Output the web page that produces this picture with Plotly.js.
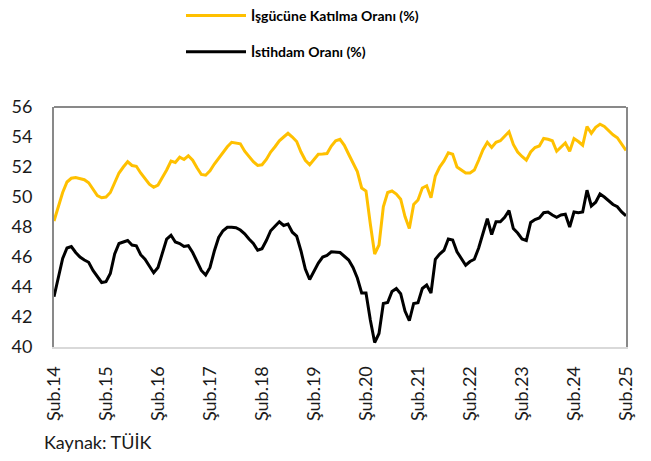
<!DOCTYPE html>
<html>
<head>
<meta charset="utf-8">
<script src="https://cdn.plot.ly/plotly-3.0.1.min.js"></script>
<style>html,body{margin:0;padding:0;background:#fff;}#chart{width:651px;height:461px;}</style>
</head>
<body>
<div id="chart"></div>
<script>
// Month names (Turkish abbreviations) and the years covered
const monthNames = ['Oca','Şub','Mar','Nis','May','Haz','Tem','Ağu','Eyl','Eki','Kas','Ara'];
const startYear = 2014;   // series starts Şubat 2014
const startMonth = 1;     // index into monthNames (Şub)
const nPoints = 133;      // Şub.14 .. Şub.25

// İşgücüne Katılma Oranı (%) — one row per 12 months starting Şub.14
const lfpr = [
  48.4,49.3,50.3,51.0,51.25,51.3,51.25,51.15,50.95,50.5,50.1,49.95,
  50.0,50.3,50.9,51.6,52.0,52.35,52.1,52.05,51.6,51.2,50.85,50.65,
  50.8,51.3,51.8,52.4,52.3,52.65,52.5,52.75,52.45,51.95,51.5,51.45,
  51.75,52.2,52.6,53.0,53.35,53.65,53.6,53.55,53.05,52.7,52.35,52.1,
  52.15,52.5,53.0,53.35,53.75,54.0,54.25,54.0,53.7,53.0,52.45,52.15,
  52.5,52.85,52.87,52.9,53.4,53.75,53.85,53.45,52.85,52.3,51.7,50.6,
  50.4,48.2,46.2,46.8,49.35,50.3,50.4,50.2,49.85,48.7,47.9,49.5,
  49.8,50.6,50.75,49.95,51.4,52.0,52.4,52.95,52.85,52.0,51.8,51.6,
  51.6,51.8,52.45,53.15,53.65,53.3,53.65,53.75,54.05,54.35,53.5,53.0,
  52.7,52.45,53.0,53.3,53.4,53.9,53.85,53.75,53.05,53.35,53.6,53.05,
  53.9,53.7,53.45,54.7,54.25,54.65,54.85,54.7,54.4,54.15,53.95,53.5,
  53.1
];

// İstihdam Oranı (%)
const emp = [
  43.35,44.6,45.9,46.6,46.7,46.3,46.0,45.8,45.65,45.1,44.7,44.3,
  44.35,44.9,46.2,46.9,47.0,47.1,46.8,46.75,46.15,45.85,45.4,44.95,
  45.3,46.3,47.2,47.45,47.0,46.9,46.7,46.75,46.3,45.7,45.1,44.8,
  45.3,46.4,47.3,47.75,47.98,47.98,47.95,47.8,47.55,47.2,46.9,46.45,
  46.55,47.1,47.75,48.05,48.35,48.1,48.2,47.65,47.4,46.4,45.2,44.5,
  45.1,45.6,46.0,46.1,46.35,46.35,46.3,46.05,45.8,45.3,44.6,43.6,
  43.6,41.8,40.3,40.9,42.9,42.97,43.7,43.9,43.55,42.4,41.75,42.9,
  42.95,43.9,44.13,43.6,45.85,46.2,46.45,47.2,47.13,46.35,45.9,45.45,
  45.7,45.85,46.6,47.6,48.55,47.5,48.35,48.35,48.65,49.1,47.9,47.6,
  47.2,47.1,48.3,48.5,48.6,48.95,49.0,48.8,48.65,48.8,48.85,48.0,
  49.0,48.95,49.0,50.45,49.4,49.65,50.2,50.0,49.75,49.5,49.35,49.0,
  48.75
];

// Category labels like "Şub.14"
const months = [];
for (let i = 0; i < nPoints; i++) {
  const m = (startMonth + i) % 12;
  const y = (startYear + Math.floor((startMonth + i) / 12)) % 100;
  months.push(monthNames[m] + '.' + String(y).padStart(2, '0'));
}
const tickLabels = months.filter(s => s.startsWith('Şub'));

const seriesNames = ['İşgücüne Katılma Oranı (%)', 'İstihdam Oranı (%)'];
const seriesColors = ['#FFC000', '#000000'];

const traces = [
  {x: months, y: lfpr, name: seriesNames[0], type: 'scatter', mode: 'lines',
   line: {color: seriesColors[0], width: 3}, legendgroup: 'a'},
  {x: months, y: emp, name: seriesNames[1], type: 'scatter', mode: 'lines',
   line: {color: seriesColors[1], width: 3}, legendgroup: 'b'}
];

const layout = {
  width: 651, height: 461,
  margin: {l: 54, r: 25, t: 107, b: 114, autoexpand: false},
  paper_bgcolor: '#ffffff', plot_bgcolor: '#ffffff',
  font: {family: 'Lato, "Open Sans", sans-serif', color: '#1a1a1a'},
  showlegend: true,
  legend: {
    xref: 'container', yref: 'container',
    x: 181/651, y: 1, xanchor: 'left', yanchor: 'top',
    orientation: 'v', traceorder: 'grouped', tracegroupgap: 15,
    itemwidth: 60,
    font: {family: 'Lato, sans-serif', size: 14, color: '#000', weight: 700},
    bgcolor: 'rgba(0,0,0,0)'
  },
  xaxis: {
    type: 'category', range: [0, nPoints - 1],
    tickmode: 'array', tickvals: tickLabels, ticktext: tickLabels,
    tickangle: -90, tickfont: {size: 18, color: '#1a1a1a'},
    showgrid: false, zeroline: false,
    showline: true, linecolor: '#d9d9d9', linewidth: 2,
    ticks: 'outside', ticklen: 10, tickcolor: 'rgba(0,0,0,0)'
  },
  yaxis: {
    range: [40, 56], tick0: 40, dtick: 2,
    tickfont: {size: 18, color: '#1a1a1a'},
    showgrid: false, zeroline: false,
    showline: true, mirror: true, linecolor: '#898989', linewidth: 2,
    ticks: 'outside', ticklen: 16, tickcolor: 'rgba(0,0,0,0)'
  },
  shapes: [
    {type: 'line', xref: 'paper', yref: 'paper', x0: 0, x1: 1, y0: 1, y1: 1,
     line: {color: '#898989', width: 2}}
  ],
  annotations: [
    {text: 'Kaynak: TÜİK', xref: 'paper', yref: 'paper',
     x: (42 - 54) / 572, y: (347 - 442) / 240, xanchor: 'left', yanchor: 'middle',
     showarrow: false, font: {size: 18, color: '#1a1a1a'}}
  ]
};

Plotly.newPlot('chart', traces, layout, {displayModeBar: false, staticPlot: true});
</script>
</body>
</html>
